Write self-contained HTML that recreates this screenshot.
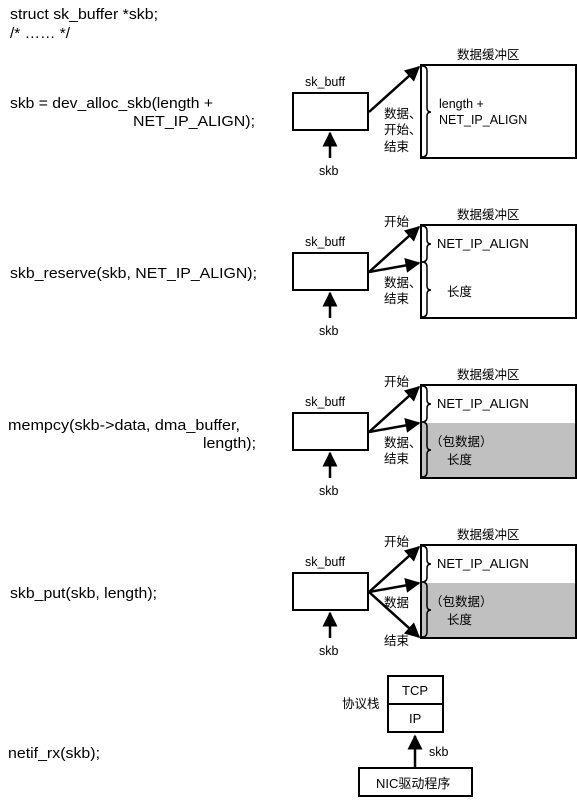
<!DOCTYPE html>
<html><head><meta charset="utf-8"><style>
html,body{margin:0;padding:0;background:#fff;}
svg{display:block;}
text{font-family:"Liberation Sans","Noto Sans CJK SC",sans-serif;fill:#000;}
.c{font-size:15px;}
.s{font-size:12.5px;}
.m{font-size:13px;}
</style></head><body>
<svg width="577" height="800" viewBox="0 0 577 800" xmlns="http://www.w3.org/2000/svg">
<defs>
<marker id="a" viewBox="0 0 10 10" refX="9" refY="5" markerWidth="6.5" markerHeight="6" orient="auto-start-reverse" markerUnits="strokeWidth"><path d="M0,0 L10,5 L0,10 z" fill="#000"/></marker>
</defs>
<!-- left code -->
<text class="c" x="10" y="19" textLength="148" lengthAdjust="spacingAndGlyphs">struct sk_buffer *skb;</text>
<text class="c" x="10" y="38" textLength="60" lengthAdjust="spacingAndGlyphs">/* …… */</text>
<text class="c" x="10" y="108" textLength="203" lengthAdjust="spacingAndGlyphs">skb = dev_alloc_skb(length +</text>
<text class="c" x="133" y="126" textLength="122" lengthAdjust="spacingAndGlyphs">NET_IP_ALIGN);</text>
<text class="c" x="10" y="278" textLength="247" lengthAdjust="spacingAndGlyphs">skb_reserve(skb, NET_IP_ALIGN);</text>
<text class="c" x="8" y="430" textLength="232" lengthAdjust="spacingAndGlyphs">mempcy(skb-&gt;data, dma_buffer,</text>
<text class="c" x="203" y="448" textLength="53" lengthAdjust="spacingAndGlyphs">length);</text>
<text class="c" x="10" y="598" textLength="147" lengthAdjust="spacingAndGlyphs">skb_put(skb, length);</text>
<text class="c" x="8" y="758" textLength="92" lengthAdjust="spacingAndGlyphs">netif_rx(skb);</text>

<!-- Section 1 -->
<g stroke="#000" fill="none" stroke-width="1.5">
<rect x="293" y="93" width="75" height="37" stroke-width="2"/>
<line x1="330" y1="158" x2="330" y2="133" stroke-width="2.5" marker-end="url(#a)"/>
<rect x="421" y="65" width="155" height="93" stroke-width="2"/>
<line x1="369" y1="112" x2="419" y2="67" stroke-width="2.5" marker-end="url(#a)"/>
<path d="M422,66 Q427,66 427,71 L427,108 Q427,112 431,112 Q427,112 427,116 L427,152 Q427,157 422,157"/>
</g>
<text class="s" x="305" y="86">sk_buff</text>
<text class="s" x="319" y="175">skb</text>
<text class="s" x="457" y="59">数据缓冲区</text>
<text class="s" x="439" y="108">length +</text>
<text class="s" x="439" y="124">NET_IP_ALIGN</text>
<text class="s" x="384" y="118">数据、</text>
<text class="s" x="384" y="134">开始、</text>
<text class="s" x="384" y="151">结束</text>

<!-- Section 2 -->
<g stroke="#000" fill="none" stroke-width="1.5">
<rect x="293" y="253" width="75" height="37" stroke-width="2"/>
<line x1="330" y1="318" x2="330" y2="293" stroke-width="2.5" marker-end="url(#a)"/>
<rect x="421" y="225" width="155" height="93" stroke-width="2"/>
<line x1="369" y1="272" x2="419" y2="227" stroke-width="2.5" marker-end="url(#a)"/>
<line x1="369" y1="272" x2="419" y2="263" stroke-width="2.5" marker-end="url(#a)"/>
<path d="M422,226 Q427,226 427,231 L427,240 Q427,244 431,244 Q427,244 427,248 L427,257 Q427,262 422,262 Q427,262 427,267 L427,286 Q427,290 431,290 Q427,290 427,294 L427,312 Q427,317 422,317"/>
</g>
<text class="s" x="305" y="246">sk_buff</text>
<text class="s" x="319" y="335">skb</text>
<text class="s" x="457" y="219">数据缓冲区</text>
<text class="m" x="437" y="248">NET_IP_ALIGN</text>
<text class="s" x="447" y="296">长度</text>
<text class="s" x="384" y="226">开始</text>
<text class="s" x="384" y="287">数据、</text>
<text class="s" x="384" y="303">结束</text>

<!-- Section 3 -->
<rect x="421" y="423" width="155" height="55" fill="#c0c0c0"/>
<g stroke="#000" fill="none" stroke-width="1.5">
<rect x="293" y="413" width="75" height="37" stroke-width="2"/>
<line x1="330" y1="478" x2="330" y2="453" stroke-width="2.5" marker-end="url(#a)"/>
<rect x="421" y="385" width="155" height="93" stroke-width="2"/>
<line x1="369" y1="432" x2="419" y2="387" stroke-width="2.5" marker-end="url(#a)"/>
<line x1="369" y1="432" x2="419" y2="423" stroke-width="2.5" marker-end="url(#a)"/>
<path d="M422,386 Q427,386 427,391 L427,400 Q427,404 431,404 Q427,404 427,408 L427,417 Q427,422 422,422 Q427,422 427,427 L427,446 Q427,450 431,450 Q427,450 427,454 L427,472 Q427,477 422,477"/>
</g>
<text class="s" x="305" y="406">sk_buff</text>
<text class="s" x="319" y="495">skb</text>
<text class="s" x="457" y="379">数据缓冲区</text>
<text class="m" x="437" y="408">NET_IP_ALIGN</text>
<text class="s" x="430" y="446">（包数据）</text>
<text class="s" x="447" y="464">长度</text>
<text class="s" x="384" y="386">开始</text>
<text class="s" x="384" y="447">数据、</text>
<text class="s" x="384" y="463">结束</text>

<!-- Section 4 -->
<rect x="421" y="583" width="155" height="55" fill="#c0c0c0"/>
<g stroke="#000" fill="none" stroke-width="1.5">
<rect x="293" y="573" width="75" height="37" stroke-width="2"/>
<line x1="330" y1="638" x2="330" y2="613" stroke-width="2.5" marker-end="url(#a)"/>
<rect x="421" y="545" width="155" height="93" stroke-width="2"/>
<line x1="369" y1="592" x2="419" y2="547" stroke-width="2.5" marker-end="url(#a)"/>
<line x1="369" y1="592" x2="419" y2="583" stroke-width="2.5" marker-end="url(#a)"/>
<line x1="369" y1="592" x2="419" y2="637" stroke-width="2.5" marker-end="url(#a)"/>
<path d="M422,546 Q427,546 427,551 L427,560 Q427,564 431,564 Q427,564 427,568 L427,577 Q427,582 422,582 Q427,582 427,587 L427,606 Q427,610 431,610 Q427,610 427,614 L427,632 Q427,637 422,637"/>
</g>
<text class="s" x="305" y="566">sk_buff</text>
<text class="s" x="319" y="655">skb</text>
<text class="s" x="457" y="539">数据缓冲区</text>
<text class="m" x="437" y="568">NET_IP_ALIGN</text>
<text class="s" x="430" y="606">（包数据）</text>
<text class="s" x="447" y="624">长度</text>
<text class="s" x="384" y="546">开始</text>
<text class="s" x="384" y="607">数据</text>
<text class="s" x="384" y="645">结束</text>

<!-- Stack -->
<g stroke="#000" fill="none" stroke-width="2">
<rect x="388" y="676" width="55" height="56"/>
<line x1="388" y1="704" x2="443" y2="704"/>
<rect x="359" y="768" width="113" height="28"/>
<line x1="415" y1="767" x2="415" y2="736" stroke-width="2.5" marker-end="url(#a)"/>
</g>
<text class="m" x="402" y="695">TCP</text>
<text class="m" x="409" y="723">IP</text>
<text class="s" x="342" y="708">协议栈</text>
<text class="s" x="429" y="756">skb</text>
<text class="m" x="376" y="788">NIC驱动程序</text>
</svg>
</body></html>
